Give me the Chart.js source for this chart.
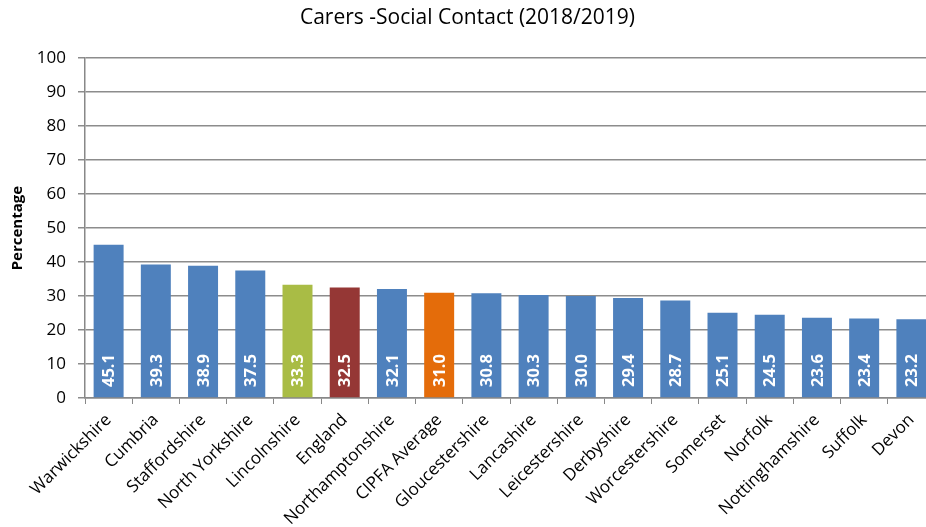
<!DOCTYPE html>
<html>
<head>
<meta charset="utf-8">
<script src="https://cdn.jsdelivr.net/npm/chart.js@4/dist/chart.umd.min.js"></script>
<style>
html,body{margin:0;padding:0;background:#fff;overflow:hidden}
#wrap{width:935px;height:527px;position:relative}
</style>
</head>
<body>
<div id="wrap"><canvas id="grafico"></canvas></div>
<script>
const categorias=['Warwickshire','Cumbria','Staffordshire','North Yorkshire','Lincolnshire','England','Northamptonshire','CIPFA Average','Gloucestershire','Lancashire','Leicestershire','Derbyshire','Worcestershire','Somerset','Norfolk','Nottinghamshire','Suffolk','Devon']
const valores=[45.1,39.3,38.9,37.5,33.3,32.5,32.1,31.0,30.8,30.3,30.0,29.4,28.7,25.1,24.5,23.6,23.4,23.2]
const yTicks=[0,10,20,30,40,50,60,70,80,90,100]

// destaque: Lincolnshire, England e CIPFA Average
const corPadrao='#4f81bd'
const coresEspeciais={'Lincolnshire':'#a9bc45','England':'#953735','CIPFA Average':'#e46c0a'}
const cores=categorias.map(c=>coresEspeciais[c]||corPadrao)

const fonte='"Open Sans", Lato, sans-serif'

// rótulos brancos girados dentro das barras
const rotulosBarras={
id:'rotulosBarras',
afterDatasetsDraw(chart){
let ctx=chart.ctx
let meta=chart.getDatasetMeta(0)
let y0=chart.scales.y.getPixelForValue(0)
ctx.save()
ctx.fillStyle='#fff'
ctx.font='bold 16.5px '+fonte
ctx.textAlign='left'
ctx.textBaseline='middle'
meta.data.forEach((bar,i)=>{
ctx.save()
ctx.translate(bar.x+1,y0-11)
ctx.rotate(-Math.PI/2)
ctx.fillText(valores[i].toFixed(1),0,0)
ctx.restore()
})
ctx.restore()
}
}

new Chart(document.getElementById('grafico'),{
type:'bar',
data:{
labels:categorias,
datasets:[{
data:valores,
backgroundColor:cores,
borderWidth:0,
barPercentage:0.635,
categoryPercentage:1
}]
},
options:{
responsive:true,
maintainAspectRatio:false,
animation:false,
layout:{padding:{left:0,right:0,top:0,bottom:0}},
plugins:{
legend:{display:false},
tooltip:{enabled:false},
title:{
display:true,
text:'Carers -Social Contact (2018/2019)',
color:'#000',
font:{family:fonte,size:21,weight:'normal'},
padding:{top:5,bottom:28}
}
},
scales:{
x:{
grid:{drawOnChartArea:false,drawTicks:true,tickLength:6,color:'#888',offset:true},
border:{color:'#888',width:1.5},
ticks:{
color:'#000',
font:{family:fonte,size:17},
maxRotation:45,
minRotation:45,
autoSkip:false,
padding:6
},
afterFit(s){s.height=129}
},
y:{
min:0,
max:100,
afterBuildTicks(s){s.ticks=yTicks.map(v=>({value:v}))},
grid:{color:'#8c8c8c',lineWidth:1.5,tickLength:7},
border:{color:'#888',width:1.5},
ticks:{color:'#000',font:{family:fonte,size:17},padding:12},
title:{
display:true,
text:'Percentage',
color:'#000',
font:{family:fonte,size:15,weight:'bold'},
padding:{top:9,bottom:0}
},
afterFit(s){s.width=85}
}
}
},
plugins:[rotulosBarras]
})
</script>
</body>
</html>
